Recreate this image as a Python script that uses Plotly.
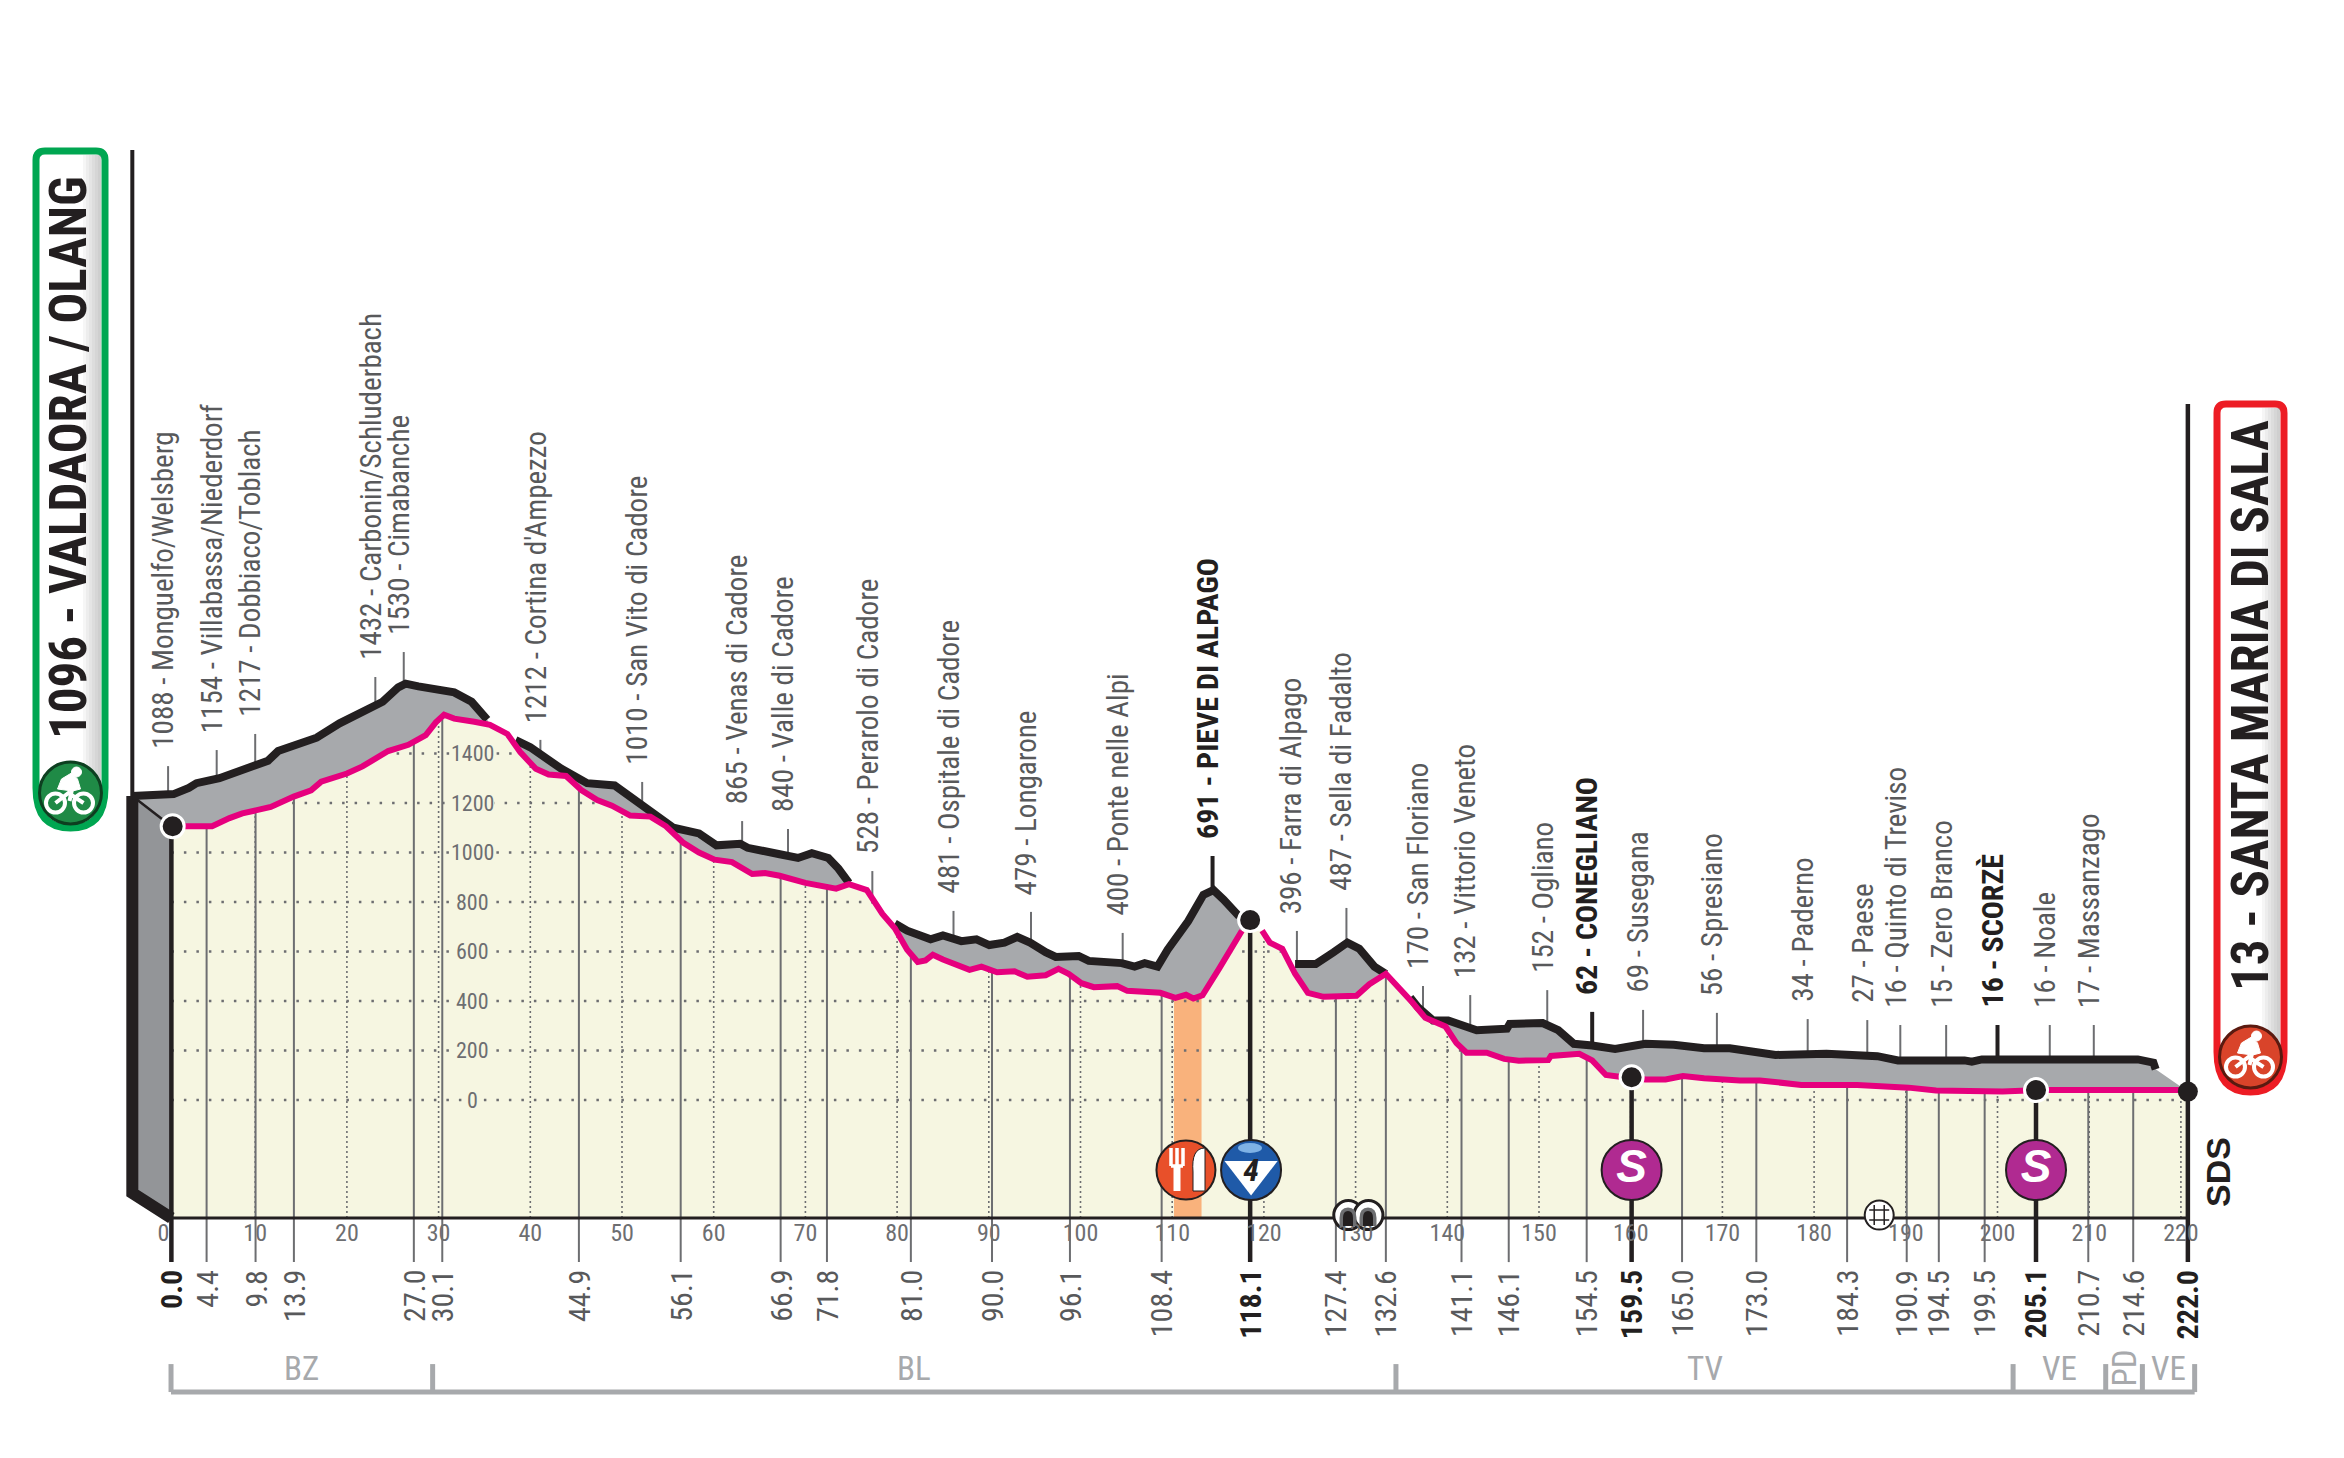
import numpy as np
import plotly.graph_objects as go

W, H = 2344, 1458

# front edge of the road (pink), km / metres, None = hidden behind the climb dot
pink_km = [1.0, 5.3, 7.2, 8.6, 11.7, 14.2, 16.1, 17.2, 20.0, 21.7, 24.5, 26.7, 28.6, 29.7, 30.6, 31.7,
           33.9, 35.6, 37.5, 38.9, 40.6, 42.0, 43.9, 45.6, 47.3, 48.9, 50.9, 53.1, 54.8, 56.7, 58.4, 60.1,
           62.0, 64.2, 65.6, 67.2, 70.0, 73.35, 74.75, 76.7, 78.4, 79.75, 81.1, 82.25, 83.1, 83.9, 85.0,
           86.4, 87.9, 89.2, 90.9, 92.8, 94.2, 96.2, 97.6, 98.7, 100.1, 101.45, 104.0, 105.1, 108.7, 110.35,
           111.5, 112.3, 113.3, 115.1, 117.6, None, 119.8, 120.65, 122.0, 123.4, 124.8, 126.5, 130.1, 131.5,
           133.3, 134.55, 136.2, 137.6, 139.8, 141.0, 142.1, 144.3, 146.2, 147.8, 151.0, 151.3, 154.4, 155.8,
           157.3, 158.8, 160.1, 161.6, 163.8, 165.7, 168.0, 171.9, 174.1, 178.6, 184.7, 190.3, 193.3, 200.55,
           203.1, 204.2, 219.75, 220.75]
pink_ele = [1106, 1106, 1139, 1158, 1184, 1226, 1251, 1286, 1319, 1348, 1410, 1435, 1474, 1526, 1557, 1541,
            1528, 1516, 1479, 1406, 1338, 1315, 1309, 1251, 1212, 1189, 1149, 1145, 1106, 1039, 1000, 971,
            961, 913, 917, 906, 877, 854, 872, 848, 752, 694, 607, 558, 564, 587, 568,
            549, 526, 539, 516, 520, 498, 504, 530, 510, 472, 456, 460, 441, 433, 413,
            425, 410, 423, 530, 684, None, 684, 636, 611, 510, 433, 417, 421, 468,
            510, 462, 394, 332, 297, 230, 191, 191, 166, 159, 161, 178, 187, 160,
            101, 94, 92, 83, 83, 97, 88, 79, 79, 61, 61, 50, 38, 34,
            40, 40, 40, 34]

# back edge of the road (black), None = hidden behind the pink line
black_km = [-3.4, 1.1, 2.76, 3.6, 6.1, 9.4, 11.4, 12.5, 16.7, 19.2, 21.4, 23.9, 25.6, 26.4, 27.8, 30.6, 31.7,
            33.6, 35.3, None, 38.4, 40.0, 43.4, 46.2, 49.2, 52.3, 55.6, 58.4, 60.3, 62.9, 63.7, 67.2, 69.2,
            70.7, 72.5, 73.6, 74.75, None, 79.75, 81.1, 83.65, 85.0, 87.0, 88.65, 90.05, 91.7, 93.1, 94.5,
            96.2, 97.3, 99.8, 100.9, 104.5, 105.9, 107.0, 108.4, 109.5, 111.75, 113.4, 114.5, 115.6, 117.3,
            None, 123.4, 125.65, 127.6, 129.1, 130.4, 132.05, 133.3, None, 135.95, 136.8, 138.45, 140.1,
            143.2, 146.5, 146.8, 150.4, 152.1, 153.8, 155.8, 158.3, 161.6, 164.7, 168.0, 170.8, 175.8, 181.35,
            186.9, 189.15, 196.4, 197.2, 198.3, 215.3, 217.0, 217.25]
black_ele = [1228, 1236, 1261, 1280, 1300, 1348, 1371, 1410, 1464, 1522, 1564, 1609, 1667, 1682, 1671, 1651, 1647,
             1609, 1537, None, 1454, 1425, 1338, 1280, 1271, 1184, 1100, 1077, 1029, 1035, 1019, 993, 978,
             997, 978, 935, 877, None, 713, 684, 649, 665, 642, 649, 626, 636, 659, 636,
             597, 578, 582, 562, 553, 539, 553, 539, 607, 723, 829, 848, 810, 742,
             None, 549, 549, 597, 636, 611, 539, 510, None, 414, 375, 321, 321,
             282, 288, 307, 311, 282, 227, 220, 206, 227, 223, 209, 209, 182, 187,
             177, 160, 160, 155, 164, 164, 151, 124]

km_ticks = list(range(0, 221, 10))
ele_ticks = [0, 200, 400, 600, 800, 1000, 1200, 1400]

# km marks under the profile: where the line stands on the km axis, and what it says
mark_km = [0.86, 4.7, 10.04, 14.22, 27.3, 30.4, 45.3, 56.4, 67.3, 72.35, 81.5, 90.35, 98.85, 108.85, 118.5, 127.85,
           133.3, 141.55, 146.7, 155.2, 160.1, 165.6, 173.7, 183.6, 190.1, 193.6, 198.6, 204.2, 209.9, 214.8, 220.76]
mark_labels = ["0.0", "4.4", "9.8", "13.9", "27.0", "30.1", "44.9", "56.1", "66.9", "71.8", "81.0", "90.0", "96.1",
               "108.4", "118.1", "127.4", "132.6", "141.1", "146.1", "154.5", "159.5", "165.0", "173.0", "184.3",
               "190.9", "194.5", "199.5", "205.1", "210.7", "214.6", "222.0"]
bold_marks = ["0.0", "118.1", "159.5", "205.1", "222.0"]

# places above the profile
place_km = [0.5, 5.8, 10.0, 23.1, 26.2, 41.1, 52.2, 63.1, 68.1, 77.3, 86.15, 94.6, 104.6, 114.4, 123.6, 129.0,
            137.35, 142.5, 150.9, 155.8, 161.35, 169.4, 179.3, 185.8, 189.4, 194.4, 200.0, 205.7, 210.5]
place_top = [1349, 1414, 1479, 1709, 1810, 1455, 1285, 1127, 1095, 925, 764, 760, 675, 986, 683, 776,
             461, 424, 444, 356, 364, 352, 327, 323, 303, 303, 303, 303, 303]
place_labels = ["1088 - Monguelfo/Welsberg", "1154 - Villabassa/Niederdorf", "1217 - Dobbiaco/Toblach",
                "1432 - Carbonin/Schluderbach", "1530 - Cimabanche", "1212 - Cortina d'Ampezzo",
                "1010 - San Vito di Cadore", "865 - Venas di Cadore", "840 - Valle di Cadore",
                "528 - Perarolo di Cadore", "481 - Ospitale di Cadore", "479 - Longarone",
                "400 - Ponte nelle Alpi", "691 - PIEVE DI ALPAGO", "396 - Farra di Alpago",
                "487 - Sella di Fadalto", "170 - San Floriano", "132 - Vittorio Veneto", "152 - Ogliano",
                "62 - CONEGLIANO", "69 - Susegana", "56 - Spresiano", "34 - Paderno", "27 - Paese",
                "16 - Quinto di Treviso", "15 - Zero Branco", "16 - SCORZÈ", "16 - Noale", "17 - Massanzago"]
bold_places = ["691 - PIEVE DI ALPAGO", "62 - CONEGLIANO", "16 - SCORZÈ"]

region_edges = [0.82, 29.35, 134.4, 201.7, 211.8, 215.8, 221.5]
region_labels = ["BZ", "BL", "TV", "VE", "PD", "VE"]

dot_km = [1.0, 118.5, 160.1, 204.2]
dot_ele = [1106, 727, 92, 40]
feed_zone = [110.2, 113.2]
sprint_km = [160.1, 204.2]
tunnel_km = [129.2, 131.4]
crossing_km = [187.1]
kom_km = [118.6]
feed_km = [111.5]

TOP_LEFT, TOP_RIGHT = 3838, 2812
BASE, MARK_END, LABEL_TOP = -477, -655, -679
WALL_BOTTOM, ICON_Y, SMALL_ICON_Y = -376, -283, -465
REG_LINE, REG_TICK, REG_TEXT = -1180, -1067, -1085
START_X, END_X, WALL_X = 0.86, 220.76, -3.4

GREY_TEXT = "#58595b"
DARK = "#231f20"
PINK = "#e6007e"
GREY = "#a7a9ac"
PALE = "#f6f6e1"
NARROW = "Roboto Condensed"

pk = np.array(pink_km, dtype=float)
pe = np.array(pink_ele, dtype=float)
bk = np.array(black_km, dtype=float)
be = np.array(black_ele, dtype=float)
pk_ok, pe_ok = pk[~np.isnan(pk)], pe[~np.isnan(pe)]
bk_ok, be_ok = bk[~np.isnan(bk)], be[~np.isnan(be)]

fig = go.Figure()


def line(x, y, color, width, dash=None, **kw):
    fig.add_trace(go.Scatter(x=x, y=y, mode="lines", hoverinfo="skip", showlegend=False,
                             line=dict(color=color, width=width, dash=dash), **kw))


def poly(x, y, color):
    fig.add_trace(go.Scatter(x=x, y=y, mode="lines", fill="toself", fillcolor=color, hoverinfo="skip",
                             showlegend=False, line=dict(width=0, color=color)))


# pale body, feed zone, left wall
poly([START_X] + list(pk_ok) + [END_X, START_X], [pe_ok[0]] + list(pe_ok) + [BASE, BASE], PALE)
poly([feed_zone[0], feed_zone[1], feed_zone[1], feed_zone[0]], [BASE, BASE, 423, 413], "#f9b27c")
poly([WALL_X, START_X, START_X, WALL_X], [be_ok[0], pe_ok[0], BASE, WALL_BOTTOM], "#939598")

# grey band between back and front edge, one polygon per visible stretch
breaks = np.where(np.isnan(bk))[0]
starts = [0] + list(breaks + 1)
ends = list(breaks) + [len(bk)]
for n, (a, b) in enumerate(zip(starts, ends)):
    seg_k, seg_e = bk[a:b], be[a:b]
    hi = np.inf if n == len(starts) - 1 else seg_k[-1] + 0.5
    mask = (pk_ok >= seg_k[0]) & (pk_ok <= hi)
    poly(list(seg_k) + list(pk_ok[mask][::-1]), list(seg_e) + list(pe_ok[mask][::-1]), GREY)

# dotted grid stays inside the pale body
sample = np.arange(START_X, END_X, 0.1)
sample_y = np.interp(sample, pk_ok, pe_ok)
for level in ele_ticks:
    line(sample, np.where(sample_y > level, level, np.nan), "#6d6e71", 2.5, dash="2.5px,10px")
gx, gy = [], []
for k in km_ticks[1:]:
    gx += [k, k, None]
    gy += [BASE, float(np.interp(k, pk_ok, pe_ok)) - 8, None]
line(gx, gy, "#6d6e71", 1.6, dash="2px,3px")

# km marks
mx, my = [], []
for k, lab in zip(mark_km, mark_labels):
    if lab not in bold_marks:
        mx += [k, k, None]
        my += [MARK_END, float(np.interp(k, pk_ok, pe_ok)), None]
line(mx, my, "#6d6e71", 2)
bx, by = [], []
for k, lab in zip(mark_km, mark_labels):
    if lab in bold_marks[:-1]:
        bx += [k, k, None]
        by += [MARK_END, float(np.interp(k, pk_ok, pe_ok)), None]
line(bx, by, DARK, 4.5)

# place ticks
tx, ty, tbx, tby = [], [], [], []
for k, top, lab in zip(place_km, place_top, place_labels):
    foot = float(np.interp(k, bk_ok, be_ok))
    if lab in bold_places:
        tbx += [k, k, None]
        tby += [foot, top, None]
    else:
        tx += [k, k, None]
        ty += [foot, top, None]
line(tx, ty, "#6d6e71", 2)
line(tbx, tby, DARK, 4)

# frame lines
line([START_X, END_X], [BASE, BASE], DARK, 3)
line([WALL_X, WALL_X], [be_ok[0], TOP_LEFT], DARK, 4)
line([WALL_X, WALL_X, START_X], [be_ok[0], WALL_BOTTOM, BASE], DARK, 12)
line([WALL_X, START_X], [be_ok[0], pe_ok[0]], DARK, 2.5)
line([END_X, END_X], [TOP_RIGHT, MARK_END], DARK, 4.5)

# road edges
line(bk, be, DARK, 8)
line(pk, pe, PINK, 6)

# dots on the road
fig.add_trace(go.Scatter(x=dot_km, y=dot_ele, mode="markers", hoverinfo="skip", showlegend=False,
                         marker=dict(size=23, color=DARK, line=dict(color="white", width=3))))
fig.add_trace(go.Scatter(x=[END_X], y=[pe_ok[-1]], mode="markers", hoverinfo="skip", showlegend=False,
                         marker=dict(size=20, color=DARK)))

# intermediate icons
fig.add_trace(go.Scatter(x=sprint_km, y=[ICON_Y] * 2, mode="markers+text", text=["<i><b>S</b></i>"] * 2,
                         textposition="middle center",
                         textfont=dict(family="Liberation Sans", size=46, color="white"),
                         hoverinfo="skip", showlegend=False,
                         marker=dict(size=60, color="#b02a91", line=dict(color=DARK, width=2))))
fig.add_trace(go.Scatter(x=kom_km, y=[ICON_Y], mode="markers", hoverinfo="skip", showlegend=False,
                         marker=dict(size=60, color="#1f5aa8", line=dict(color=DARK, width=2))))
fig.add_trace(go.Scatter(x=kom_km, y=[ICON_Y - 10], mode="markers+text", text=["4"],
                         textposition="middle center",
                         textfont=dict(family=NARROW, size=32, color=DARK, style="italic", weight="bold"),
                         hoverinfo="skip", showlegend=False,
                         marker=dict(size=46, symbol="triangle-down", color="white")))
fig.add_trace(go.Scatter(x=feed_km, y=[ICON_Y], mode="markers", hoverinfo="skip", showlegend=False,
                         marker=dict(size=59, color="#e8502a", line=dict(color=DARK, width=2))))
fig.add_trace(go.Scatter(x=tunnel_km, y=[SMALL_ICON_Y] * 2, mode="markers", hoverinfo="skip", showlegend=False,
                         marker=dict(size=29, color="white", line=dict(color=DARK, width=3))))
fig.add_trace(go.Scatter(x=crossing_km, y=[SMALL_ICON_Y], mode="markers", hoverinfo="skip", showlegend=False,
                         marker=dict(size=29, color="white", line=dict(color=DARK, width=2))))
fig.add_trace(go.Scatter(x=crossing_km, y=[SMALL_ICON_Y], mode="markers", hoverinfo="skip", showlegend=False,
                         marker=dict(size=20, symbol="hash-open", color=DARK, line=dict(color=DARK, width=1.5))))

# region brackets
rx, ry = [], []
for k in region_edges:
    rx += [k, k, None]
    ry += [REG_LINE, REG_TICK, None]
rx += [region_edges[0], region_edges[-1]]
ry += [REG_LINE, REG_LINE]
line(rx, ry, GREY, 5)

ann = []
for k, top, lab in zip(place_km, place_top, place_labels):
    bold = lab in bold_places
    ann.append(dict(x=k, y=top, text=f"<b>{lab}</b>" if bold else lab, textangle=-90, showarrow=False,
                    xanchor="center", yanchor="bottom", xshift=-5, yshift=15,
                    font=dict(family=NARROW, size=30 if bold else 29, color=DARK if bold else GREY_TEXT)))
for k, lab in zip(mark_km, mark_labels):
    bold = lab in bold_marks
    ann.append(dict(x=k, y=LABEL_TOP, text=f"<b>{lab}</b>" if bold else lab, textangle=-90, showarrow=False,
                    xanchor="center", yanchor="top",
                    font=dict(family=NARROW, size=30, color=DARK if bold else GREY_TEXT)))
for level in ele_ticks:
    ann.append(dict(x=33.7, y=level, text=str(level), showarrow=False, bgcolor=PALE, borderpad=0,
                    font=dict(family=NARROW, size=22, color="#6d6e71")))
for a, b, lab in zip(region_edges[:-1], region_edges[1:], region_labels):
    ann.append(dict(x=(a + b) / 2, y=REG_TEXT, text=lab, showarrow=False, textangle=-90 if lab == "PD" else 0,
                    font=dict(family=NARROW, size=33, color=GREY)))


def px(x):
    return x / W


def py(y):
    return 1 - y / H


def box_path(x0, y0, x1, y1, r_top, r_bot):
    pts = [f"M{px(x0 + r_top)},{py(y0)}", f"L{px(x1 - r_top)},{py(y0)}",
           f"Q{px(x1)},{py(y0)} {px(x1)},{py(y0 + r_top)}", f"L{px(x1)},{py(y1 - r_bot)}",
           f"Q{px(x1)},{py(y1)} {px((x0 + x1) / 2)},{py(y1)}", f"Q{px(x0)},{py(y1)} {px(x0)},{py(y1 - r_bot)}",
           f"L{px(x0)},{py(y0 + r_top)}", f"Q{px(x0)},{py(y0)} {px(x0 + r_top)},{py(y0)}", "Z"]
    return " ".join(pts)


shapes = []


def shape_path(d, fill=None, stroke=None, width=0):
    shapes.append(dict(type="path", path=d, xref="paper", yref="paper", fillcolor=fill,
                       line=dict(color=stroke, width=width)))


def circle(cx, cy, r, fill=None, stroke=None, width=0):
    shapes.append(dict(type="circle", xref="paper", yref="paper", x0=px(cx - r), x1=px(cx + r),
                       y0=py(cy + r), y1=py(cy - r), fillcolor=fill, line=dict(color=stroke, width=width)))


def rider(cx, cy):
    circle(cx - 15, cy + 10, 9.5, None, "white", 4)
    circle(cx + 13, cy + 10, 9.5, None, "white", 4)
    d = (f"M{px(cx - 15)},{py(cy + 10)} L{px(cx - 2)},{py(cy)} L{px(cx + 13)},{py(cy + 10)} "
         f"M{px(cx - 1)},{py(cy + 8)} L{px(cx + 2)},{py(cy - 6)}")
    shape_path(d, None, "white", 4)
    d2 = (f"M{px(cx - 13)},{py(cy - 4)} L{px(cx - 9)},{py(cy - 14)} L{px(cx + 1)},{py(cy - 20)} L{px(cx + 7)},{py(cy - 14)} "
          f"L{px(cx + 10)},{py(cy - 4)} L{px(cx + 2)},{py(cy - 2)} Z")
    shape_path(d2, "white", "white", 1)
    circle(cx + 6, cy - 21, 5, "white", "white", 1)


def title_box(x0, y0, x1, y1, color, icon_fill, icon_edge):
    shape_path(box_path(x0, y0, x1, y1, 9, 40), "white", color, 7)
    for i in range(6):
        xs = x1 - 4 - 3 * (i + 1)
        shapes.append(dict(type="rect", xref="paper", yref="paper", x0=px(xs), x1=px(x1 - 4),
                           y0=py(y1 - 40), y1=py(y0 + 4), fillcolor="#808285", opacity=0.07,
                           line=dict(width=0)))
    cx, cy = (x0 + x1) / 2, y1 - 35
    circle(cx, cy, 31, icon_fill, icon_edge, 3)
    rider(cx, cy)


title_box(36, 151, 105, 828, "#00a651", "#1f8a46", "#0d3f20")
title_box(2217, 404, 2284, 1092, "#ed1c24", "#d9442a", "#5a1a10")

# fork and knife on the feed icon
fx, fy = 1187, 1170
shape_path(f"M{px(fx - 16)},{py(fy - 22)} L{px(fx - 16)},{py(fy - 4)} M{px(fx - 10)},{py(fy - 22)} L{px(fx - 10)},{py(fy - 4)} "
           f"M{px(fx - 4)},{py(fy - 22)} L{px(fx - 4)},{py(fy - 4)} M{px(fx - 16)},{py(fy - 4)} L{px(fx - 4)},{py(fy - 4)}",
           None, "white", 3.5)
shape_path(f"M{px(fx - 10)},{py(fy - 5)} L{px(fx - 10)},{py(fy + 21)}", None, "white", 7)
shape_path(f"M{px(fx + 6)},{py(fy + 21)} L{px(fx + 6)},{py(fy + 2)} Q{px(fx + 4)},{py(fy - 22)} {px(fx + 18)},{py(fy - 22)} "
           f"L{px(fx + 18)},{py(fy + 21)} Z", "white", DARK, 1)

# highlight on the climb icon
shapes.append(dict(type="circle", xref="paper", yref="paper", x0=px(1238), x1=px(1262), y0=py(1153), y1=py(1143),
                   fillcolor="#7fb2e5", line=dict(width=0)))

# tunnel arches
for tx0 in [1348, 1368]:
    for half, col in [(8.5, "#6d6e71"), (5, DARK)]:
        shape_path(f"M{px(tx0 - half)},{py(1226)} L{px(tx0 - half)},{py(1218)} "
                   f"Q{px(tx0 - half)},{py(1216 - half)} {px(tx0)},{py(1216 - half)} "
                   f"Q{px(tx0 + half)},{py(1216 - half)} {px(tx0 + half)},{py(1218)} L{px(tx0 + half)},{py(1226)} Z",
                   col, col, 0)

ann.append(dict(x=px(69), y=py(458), xref="paper", yref="paper", xanchor="center", yanchor="middle",
                text="<b>1096 - VALDAORA / OLANG</b>", textangle=-90,
                showarrow=False, font=dict(family=NARROW, size=51, color=DARK)))
ann.append(dict(x=px(2250), y=py(706), xref="paper", yref="paper", xanchor="center", yanchor="middle",
                text="<b>13 - SANTA MARIA DI SALA</b>", textangle=-90,
                showarrow=False, font=dict(family=NARROW, size=51, color=DARK)))
ann.append(dict(x=px(2218), y=py(1172), xref="paper", yref="paper", xanchor="center", yanchor="middle",
                text="<b>SDS</b>", textangle=-90,
                showarrow=False, font=dict(family="Liberation Sans", size=34, color=DARK)))

fig.update_layout(
    width=W, height=H,
    margin=dict(l=0, r=0, t=0, b=0),
    plot_bgcolor="white", paper_bgcolor="white",
    showlegend=False,
    shapes=shapes,
    annotations=ann,
    xaxis=dict(range=[-163.5 / 9.17, (W - 163.5) / 9.17], tickmode="array", tickvals=km_ticks,
               ticktext=[str(k) for k in km_ticks], anchor="free", position=1 - 1218 / H,
               showgrid=False, zeroline=False, showline=False, ticks="", ticklabelstandoff=-2,
               tickfont=dict(family=NARROW, size=24, color="#6d6e71")),
    yaxis=dict(range=[(1100 - H) / 0.2475, 1100 / 0.2475], visible=False),
)

fig.write_html("out.html", config={"displayModeBar": False}, post_script="document.body.style.margin='0'")
